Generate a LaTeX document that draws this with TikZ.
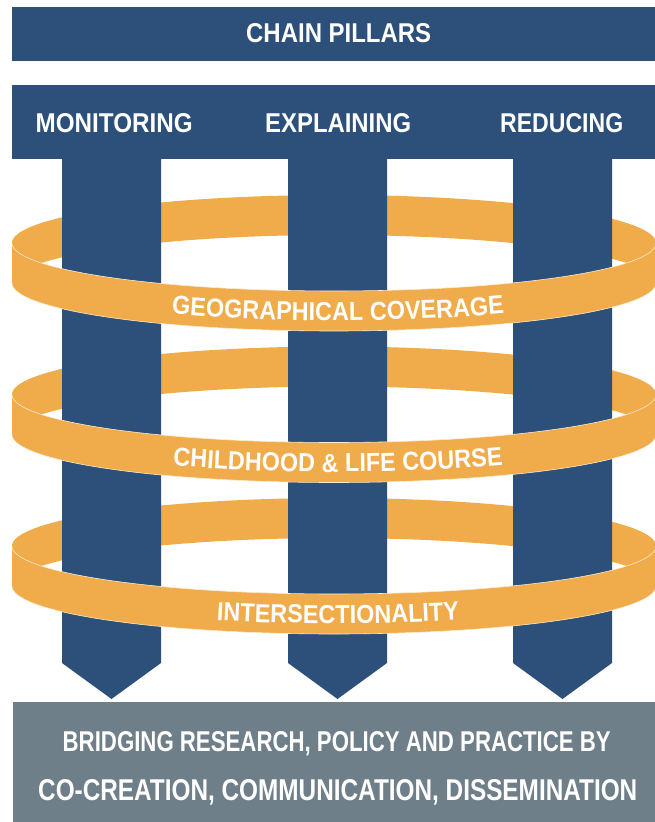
\documentclass[tikz,border=0pt]{standalone}
\usepackage{fontspec}
\setmainfont{Liberation Sans}
\newfontfamily\ringfam{Liberation Sans Bold}[FakeStretch=0.9]
\usetikzlibrary{decorations.text}
\definecolor{pblue}{RGB}{44,80,122}
\definecolor{pring}{RGB}{240,171,75}
\definecolor{pgray}{RGB}{111,127,138}
\definecolor{pedge}{RGB}{252,234,205}
\newcommand\fitTxt[3]{\resizebox{#1pt}{#2pt}{\bfseries #3}}
\newcommand\ringBack[1]{%
  \fill[bandfill] plot[domain=180:360,samples=90] ({334+322*cos(\x)},{#1+48*sin(\x)})
    -- plot[domain=360:180,samples=90] ({334+322*cos(\x)},{#1+40+48*sin(\x)}) -- cycle;}
\newcommand\ringFront[2]{%
  \fill[bandfill] plot[domain=180:0,samples=90] ({334+322*cos(\x)},{#1+48*sin(\x)})
    -- plot[domain=0:180,samples=90] ({334+322*cos(\x)},{#1+40+48*sin(\x)}) -- cycle;
  \draw[bandedge] plot[domain=180:0,samples=90] ({334+322*cos(\x)},{#1+48*sin(\x)});
  \draw[bandedge] plot[domain=180:0,samples=90] ({334+322*cos(\x)},{#1+40+48*sin(\x)});
  \path[decorate, decoration={text along path, text={|\ringfam\fontsize{26}{26}\selectfont|#2},
     text align={center, left indent=8pt}, raise=-9.5pt, text color=white}]
     plot[domain=180:0,samples=120] ({334+322*cos(\x)},{#1+20+48*sin(\x)});}
\tikzset{
  lbl/.style={inner sep=0pt, anchor=base west, text=white},
  bar/.style={fill=pblue},
  pillarshape/.style={fill=pblue},
  bandfill/.style={fill=pring},
  bandedge/.style={draw=pedge, line width=0.6pt},
}
\begin{document}
\begin{tikzpicture}[x=1pt,y=-1pt]
\useasboundingbox (0,0) rectangle (655,822);
% bars
\fill[bar] (12,7) rectangle (655,61);
\fill[bar] (12,85) rectangle (655,159);
\fill[fill=pgray] (13,702) rectangle (655,822);
% ring backs
\ringBack{243}
\ringBack{394.5}
\ringBack{546}
% pillars
\fill[pillarshape] (62,150) -- (161,150) -- (161,663) -- (111.5,699) -- (62,663) -- cycle;
\fill[pillarshape] (288,150) -- (387,150) -- (387,663) -- (337.5,699) -- (288,663) -- cycle;
\fill[pillarshape] (513,150) -- (612,150) -- (612,663) -- (562.5,699) -- (513,663) -- cycle;
% ring fronts
\ringFront{243}{GEOGRAPHICAL COVERAGE}
\ringFront{394.5}{CHILDHOOD {\&} LIFE COURSE}
\ringFront{546}{INTERSECTIONALITY}
% labels
\node[lbl] (title) at (246,42) {\fitTxt{185}{19}{CHAIN PILLARS}};
\node[lbl] (mon) at (35.5,132) {\fitTxt{157}{19}{MONITORING}};
\node[lbl] (exp) at (265,132) {\fitTxt{146}{19}{EXPLAINING}};
\node[lbl] (red) at (500,132) {\fitTxt{123}{19}{REDUCING}};
\node[lbl] (bridge) at (62.5,751) {\fitTxt{548}{20}{BRIDGING RESEARCH, POLICY AND PRACTICE BY}};
\node[lbl] (cocre) at (38,800) {\fitTxt{599}{21}{CO-CREATION, COMMUNICATION, DISSEMINATION}};
\end{tikzpicture}
\end{document}
